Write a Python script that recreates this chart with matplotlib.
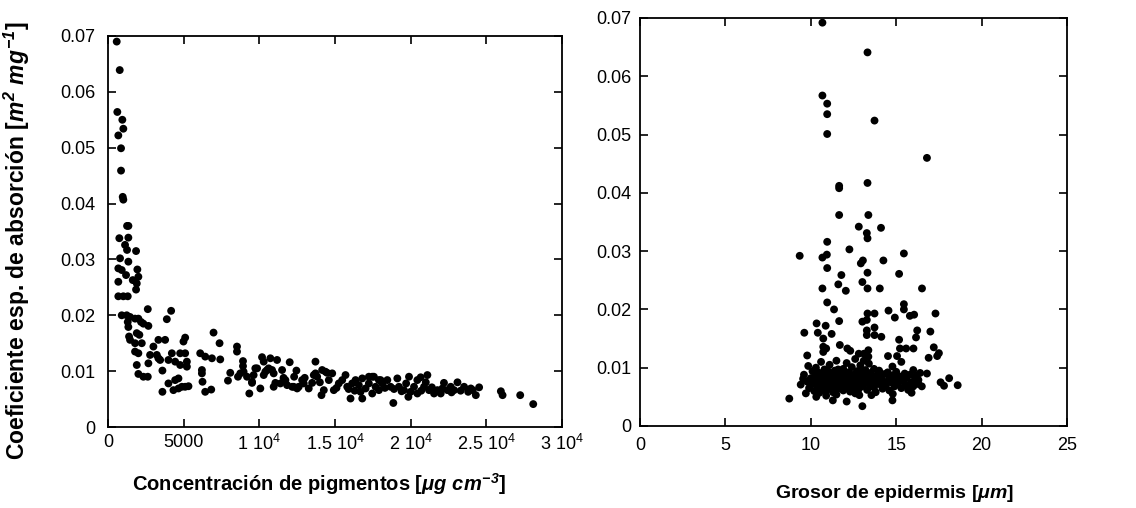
import matplotlib
matplotlib.use("Agg")
import matplotlib.pyplot as plt
import numpy as np

plt.rcParams['font.family'] = ['Liberation Sans', 'DejaVu Sans']
plt.rcParams['mathtext.fontset'] = 'custom'
plt.rcParams['mathtext.rm'] = 'Liberation Sans:bold:italic'
plt.rcParams['mathtext.it'] = 'Liberation Sans:bold:italic'
plt.rcParams['mathtext.bf'] = 'Liberation Sans:bold'

# ---------------- data: left panel (pigment concentration vs coefficient)
conc = [576, 775, 616, 947, 1013, 682, 861, 861, 973, 1013, 1260, 1350, 748, 1345, 1126, 1258,
        1854, 795, 1345, 682, 907, 1940, 1192, 2007, 1636, 682, 1901, 1854, 682, 1013, 1305,
        907, 1238, 2629, 4172, 1457, 1788, 2007, 3887, 1305, 2185, 2338, 1345, 2669, 1901, 2073,
        1391, 6974, 1457, 1788, 2232, 3331, 3775, 5099, 4987, 7371, 1788, 2007, 2781, 3225, 3000,
        4219, 4768, 5099, 6093, 6424, 6868, 7417, 3331, 3444, 3993, 4437, 5212, 5212, 1901, 2669,
        4768, 6205, 6205, 2007, 2338, 2629, 3596, 4656, 4437, 8079, 7927, 3993, 4881, 5318, 4325,
        6245, 6424, 6821, 3596, 4656, 5099, 8523, 8523, 8920, 8920, 8742, 8589, 9185, 9735, 10179,
        10289, 10728, 11172, 12007, 12450, 9623, 10289, 10510, 10947, 11503, 9517, 10066, 10947,
        11060, 11391, 11834, 12272, 12603, 9338, 8960, 9517, 9850, 10397, 10618, 10840, 11722,
        12166, 12497, 12828, 12935, 13265, 13490, 13709, 13709, 13821, 14106, 14260, 14150, 14371,
        14815, 14591, 14921, 15252, 15477, 15695, 15808, 16026, 16137, 16358, 16576, 16689, 16801,
        17020, 17238, 17461, 17461, 17682, 17900, 18123, 14481, 13598, 16801, 17238, 17570, 18013,
        18457, 17900, 18854, 19119, 19890, 20662, 18675, 19225, 19556, 19848, 20221, 20442, 20883,
        21214, 21545, 21766, 21987, 22430, 22649, 22868, 23093, 23530, 23974, 24305, 24523, 25960,
        26073, 27238, 28099, 21104, 20442, 15100, 15900, 16300, 18300, 18900, 19400, 20000, 20700,
        21400, 22100, 22700, 23300, 23800, 24100, 19700, 21000, 22200, 14000, 13000, 12300, 11600]
coef_a = [.0690, .0639, .0564, .0550, .0534, .0522, .0499, .0459, .0412, .0407, .0360, .0360, .0338,
          .0339, .0326, .0317, .0315, .0302, .0296, .0284, .0281, .0282, .0272, .0269, .0263, .0260,
          .0257, .0246, .0234, .0234, .0234, .0200, .0200, .0211, .0208, .0197, .0194, .0194, .0193,
          .0188, .0188, .0185, .0179, .0181, .0168, .0165, .0162, .0169, .0156, .0150, .0150, .0156,
          .0156, .0160, .0153, .0150, .0135, .0132, .0129, .0129, .0144, .0132, .0132, .0132, .0132,
          .0126, .0123, .0121, .0123, .0120, .0120, .0117, .0117, .0108, .0111, .0114, .0111, .0102,
          .0096, .0095, .0090, .0090, .0101, .0087, .0084, .0097, .0083, .0078, .0072, .0073, .0066,
          .0081, .0063, .0067, .0063, .0069, .0072, .0144, .0135, .0118, .0109, .0096, .0090, .0090,
          .0105, .0125, .0117, .0123, .0120, .0116, .0101, .0093, .0093, .0102, .0096, .0102, .0079,
          .0069, .0072, .0079, .0078, .0075, .0072, .0072, .0060, .0099, .0081, .0105, .0099, .0105,
          .0102, .0084, .0072, .0069, .0084, .0078, .0069, .0079, .0117, .0096, .0090, .0057, .0066,
          .0102, .0099, .0096, .0084, .0066, .0078, .0084, .0093, .0072, .0051, .0078, .0084, .0075,
          .0063, .0087, .0069, .0078, .0090, .0060, .0072, .0084, .0078, .0097, .0093, .0051, .0090,
          .0090, .0084, .0084, .0066, .0043, .0087, .0090, .0089, .0072, .0072, .0066, .0054, .0072,
          .0060, .0072, .0066, .0060, .0066, .0060, .0066, .0072, .0066, .0080, .0072, .0069, .0057,
          .0071, .0064, .0057, .0057, .0041, .0093, .0084, .0070, .0068, .0065, .0070, .0068, .0064,
          .0063, .0065, .0071, .0069, .0062, .0065, .0063, .0066, .0078, .0080, .0079, .0080, .0088,
          .0090, .0088]

# ---------------- data: right panel (epidermis thickness vs coefficient)
thick = [10.68, 13.32, 10.68, 10.96, 10.96, 13.73, 10.96, 11.66, 11.66, 13.32, 11.66, 13.37, 12.81,
         14.11, 13.28, 13.32, 10.96, 9.35, 10.68, 10.94, 12.26, 15.45, 12.93, 13.05, 14.25, 10.96,
         11.79, 13.32, 15.17, 13.02, 11.61, 12.05, 10.68, 13.32, 14.04, 16.51, 10.96, 11.36, 11.66,
         13.32, 13.73, 13.28, 13.02, 14.55, 14.92, 15.45, 15.45, 15.80, 16.05, 16.23, 16.16, 10.34,
         10.87, 10.41, 9.62, 11.22, 10.73, 13.28, 13.28, 13.73, 13.73, 14.13, 15.17, 15.22, 15.58,
         16.01, 11.70, 12.14, 12.31, 10.73, 10.73, 10.90, 9.79, 9.85, 12.81, 13.11, 13.37, 13.37,
         14.52, 15.05, 14.78, 8.74, 9.41, 9.55, 9.71, 10.32, 11.29, 12.10, 13.02, 14.78, 13.55, 12.84,
         16.8, 17.3, 17.0, 17.5, 18.1, 17.2, 18.6, 17.8, 17.4, 17.6, 16.8, 16.5, 16.3, 16.9,
         9.6, 9.8, 9.9, 10.0, 10.1, 10.1, 10.2, 10.3, 10.3, 10.4, 10.4, 10.5, 10.5, 10.6, 10.6, 10.7,
         10.7, 10.8, 10.8, 10.9, 10.9, 11.0, 11.0, 11.1, 11.1, 11.2, 11.2, 11.3, 11.3, 11.4, 11.4,
         11.5, 11.5, 11.6, 11.6, 11.7, 11.7, 11.8, 11.8, 11.9, 11.9, 12.0, 12.0, 12.1, 12.1, 12.2,
         12.2, 12.3, 12.3, 12.4, 12.4, 12.5, 12.5, 12.6, 12.6, 12.7, 12.7, 12.8, 12.8, 12.9, 12.9,
         13.0, 13.0, 13.1, 13.1, 13.2, 13.2, 13.3, 13.3, 13.4, 13.4, 13.5, 13.5, 13.6, 13.7, 13.7,
         13.8, 13.9, 14.0, 14.0, 14.1, 14.2, 14.3, 14.3, 14.4, 14.5, 14.6, 14.6, 14.7, 14.8, 14.9,
         15.0, 15.0, 15.1, 15.2, 15.3, 15.3, 15.4, 15.5, 15.6, 15.6, 15.7, 15.8, 15.9, 16.0, 16.0,
         16.1, 16.2, 16.3, 16.4, 10.2, 10.5, 10.6, 10.8, 11.0, 11.2, 11.4, 11.6, 11.8, 12.0, 12.2,
         10.9, 11.5, 12.6, 13.8, 14.8, 15.9, 10.4, 12.9, 13.6, 10.7]
coef_b = [.0692, .0641, .0567, .0553, .0535, .0524, .0501, .0412, .0408, .0417, .0362, .0362, .0342,
          .0340, .0331, .0322, .0316, .0292, .0289, .0294, .0303, .0296, .0279, .0284, .0284, .0271,
          .0259, .0263, .0261, .0247, .0243, .0232, .0236, .0236, .0236, .0236, .0212, .0200, .0180,
          .0193, .0193, .0182, .0179, .0198, .0186, .0209, .0200, .0189, .0191, .0164, .0152, .0176,
          .0172, .0160, .0160, .0158, .0150, .0164, .0156, .0169, .0156, .0153, .0148, .0133, .0133,
          .0133, .0139, .0133, .0129, .0136, .0127, .0133, .0121, .0103, .0124, .0124, .0130, .0119,
          .0120, .0120, .0102, .0047, .0071, .0081, .0056, .0050, .0044, .0042, .0034, .0044, .0053,
          .0053,
          .0460, .0193, .0162, .0125, .0082, .0135, .0070, .0069, .0120, .0075, .0090, .0068, .0079,
          .0117,
          .0088, .0076, .0065, .0082, .0094, .0072, .0060, .0086, .0100, .0078, .0068, .0091, .0057,
          .0083, .0110, .0074, .0065, .0088, .0097, .0079, .0060, .0085, .0070, .0092, .0105, .0077,
          .0066, .0083, .0058, .0095, .0072, .0087, .0112, .0079, .0064, .0090, .0069, .0082, .0075,
          .0098, .0061, .0086, .0071, .0108, .0078, .0066, .0092, .0083, .0059, .0075, .0101, .0088,
          .0068, .0080, .0115, .0072, .0094, .0063, .0085, .0077, .0104, .0090, .0068, .0082, .0112,
          .0074, .0096, .0087, .0062, .0079, .0107, .0091, .0070, .0083, .0066, .0098, .0076, .0088,
          .0072, .0095, .0081, .0064, .0089, .0076, .0070, .0092, .0082, .0061, .0075, .0087, .0068,
          .0079, .0093, .0072, .0085, .0065, .0110, .0077, .0090, .0070, .0082, .0062, .0088, .0075,
          .0096, .0068, .0080, .0087, .0072, .0091, .0079, .0075, .0069, .0081, .0094, .0086, .0081,
          .0097, .0088, .0080, .0073, .0052, .0054, .0056, .0058, .0055, .0057, .0092, .0093, .0075,
          .0084]

xticks_a = [0, 5000, 10000, 15000, 20000, 25000, 30000]
xticklabels_a = ['0', '5000', r'1 10$^{\mathregular{4}}$', r'1.5 10$^{\mathregular{4}}$',
                 r'2 10$^{\mathregular{4}}$', r'2.5 10$^{\mathregular{4}}$', r'3 10$^{\mathregular{4}}$']
yticks = [0, 0.01, 0.02, 0.03, 0.04, 0.05, 0.06, 0.07]
yticklabels = ['0', '0.01', '0.02', '0.03', '0.04', '0.05', '0.06', '0.07']
xticks_b = [0, 5, 10, 15, 20, 25]

W, H = 1136, 508
fig = plt.figure(figsize=(W / 100, H / 100), dpi=100)
ax1 = fig.add_axes([108 / W, 1 - 427 / H, (562 - 108) / W, (427 - 36) / H])
ax2 = fig.add_axes([640 / W, 1 - 426 / H, (1067 - 640) / W, (426 - 18) / H])

TICK_FS = 13

for ax in (ax1, ax2):
    for s in ax.spines.values():
        s.set_linewidth(1.3)
    ax.tick_params(direction='in', top=True, right=True, length=5.5, width=1.2,
                   labelsize=TICK_FS)
    ax.set_ylim(0, 0.07)
    ax.set_yticks(yticks)
    ax.set_yticklabels(yticklabels)

ax1.tick_params(axis='x', pad=5)
ax1.tick_params(axis='y', pad=9)
ax2.tick_params(axis='x', pad=8)
ax2.tick_params(axis='y', pad=6)

ax1.scatter(conc, coef_a, s=32, color='black', edgecolors='none', zorder=3, clip_on=False)
ax1.set_xlim(0, 30000)
ax1.set_xticks(xticks_a)
ax1.set_xticklabels(xticklabels_a)
ax1.set_xlabel(r'Concentración de pigmentos [$μg\ cm^{-3}$]', fontsize=14.5, fontweight='bold')
ax1.xaxis.set_label_coords(0.464, -0.113)
ax1.xaxis.label.set_va('top')
ax1.set_ylabel(r'Coeficiente esp. de absorción [$m^2\ mg^{-1}$]', fontsize=16.5, fontweight='bold')
ax1.yaxis.set_label_coords(-0.168, 0.476)

ax2.scatter(thick, coef_b, s=32, color='black', edgecolors='none', zorder=3, clip_on=False)
ax2.set_xlim(0, 25)
ax2.set_xticks(xticks_b)
ax2.set_xlabel(r'Grosor de epidermis [$μm$]', fontsize=14, fontweight='bold')
ax2.xaxis.set_label_coords(0.595, -0.14)
ax2.xaxis.label.set_va('top')

fig.savefig('out.png', dpi=100)
